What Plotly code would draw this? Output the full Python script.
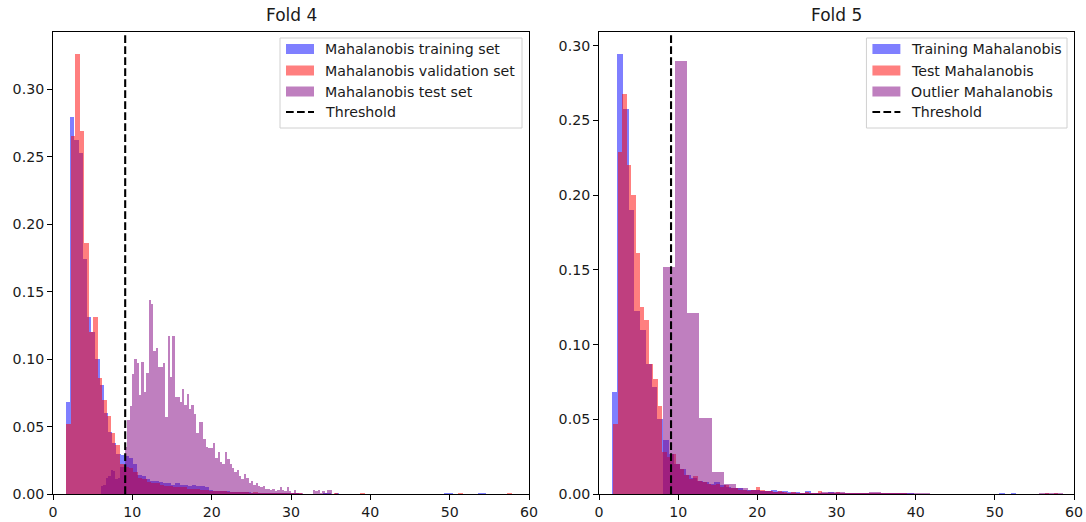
import plotly.graph_objects as go

# ---------------------------------------------------------------------------
# Histogram data (probability density per bin)
# Each series: first bin edge, bin width, densities
# ---------------------------------------------------------------------------

# Fold 4
f4_train_start, f4_train_width = 1.64, 0.53
f4_train_density = [
    0.068, 0.279, 0.262, 0.253, 0.174, 0.131, 0.120, 0.100, 0.081, 0.060,
    0.046, 0.038, 0.030, 0.029, 0.028, 0.027, 0.022, 0.014, 0.013, 0.011,
    0.010, 0.010, 0.009, 0.008, 0.008, 0.007, 0.008, 0.007, 0.007, 0.006,
    0.007, 0.006, 0.006, 0.005, 0.003, 0.002, 0.002, 0.002, 0.002, 0.0015,
    0.0015, 0.0015, 0.0012, 0.0012, 0.001, 0.001, 0.0008, 0.001, 0.0008, 0.0006,
    0.0006, 0.0005, 0.0005, 0.0004, 0.0004, 0.0005, 0.0003, 0.0, 0.0, 0.0,
    0.0, 0.0004, 0.0004, 0.0003, 0.0004, 0.0003, 0.0, 0.0, 0.0, 0.0,
    0.0, 0.0, 0.0, 0.0, 0.0, 0.0, 0.0, 0.0, 0.0, 0.0,
    0.0, 0.0, 0.0, 0.0, 0.0, 0.0, 0.0, 0.0, 0.0, 0.0,
    0.0005, 0.0004, 0.0, 0.0, 0.0, 0.0, 0.0, 0.0, 0.0004, 0.0004,
]

f4_val_start, f4_val_width = 1.70, 0.561
f4_val_density = [
    0.052, 0.265, 0.326, 0.269, 0.186, 0.120, 0.131, 0.086, 0.070, 0.058,
    0.045, 0.036, 0.022, 0.020, 0.019, 0.016, 0.012, 0.011, 0.009, 0.008,
    0.008, 0.007, 0.006, 0.006, 0.005, 0.005, 0.005, 0.004, 0.004, 0.004,
    0.003, 0.003, 0.002, 0.002, 0.002, 0.002, 0.0018, 0.0015, 0.0015, 0.0012,
    0.0012, 0.001, 0.0012, 0.0008, 0.001, 0.0008, 0.0008, 0.0006, 0.0006, 0.0005,
    0.0005, 0.0004, 0.0004, 0.0003, 0.0, 0.0, 0.0003, 0.0003, 0.0003, 0.0003,
    0.0004, 0.0003, 0.0003, 0.0, 0.0, 0.0, 0.0004, 0.0, 0.0, 0.0,
    0.0, 0.0, 0.0, 0.0, 0.0, 0.0, 0.0, 0.0, 0.0, 0.0,
    0.0, 0.0, 0.0, 0.0, 0.0, 0.0, 0.0, 0.0, 0.0004, 0.0,
    0.0, 0.0, 0.0, 0.0, 0.0, 0.0, 0.0, 0.0, 0.0, 0.0004,
]

f4_test_start, f4_test_width = 6.05, 0.30
f4_test_density = [
    0.006, 0.007, 0.012, 0.013, 0.018, 0.017, 0.011, 0.012, 0.020, 0.020,
    0.035, 0.055, 0.065, 0.089, 0.100, 0.097, 0.073, 0.098, 0.0755, 0.090,
    0.144, 0.141, 0.106, 0.108, 0.094, 0.094, 0.097, 0.057, 0.117, 0.0865,
    0.117, 0.0717, 0.072, 0.068, 0.078, 0.066, 0.074, 0.063, 0.066, 0.059,
    0.045, 0.053, 0.053, 0.041, 0.035, 0.034, 0.034, 0.038, 0.027, 0.031,
    0.024, 0.022, 0.031, 0.026, 0.022, 0.019, 0.016, 0.018, 0.013, 0.011,
    0.015, 0.012, 0.008, 0.010, 0.007, 0.008, 0.006, 0.005, 0.006, 0.004,
    0.004, 0.003, 0.004, 0.002, 0.003, 0.005, 0.003, 0.002, 0.005, 0.002,
    0.001, 0.003, 0.001, 0.0, 0.001, 0.0, 0.0, 0.0, 0.0, 0.003,
    0.002, 0.003, 0.001, 0.002, 0.001, 0.003, 0.003,
]

# Fold 5
f5_train_start, f5_train_width = 1.60, 0.72
f5_train_density = [
    0.068, 0.2945, 0.2575, 0.190, 0.1227, 0.110, 0.087, 0.0715, 0.050, 0.036,
    0.027, 0.020, 0.017, 0.013, 0.011, 0.009, 0.008, 0.007, 0.008, 0.006,
    0.005, 0.004, 0.004, 0.003, 0.003, 0.003, 0.002, 0.002, 0.003, 0.002,
    0.002, 0.0015, 0.0015, 0.001, 0.002, 0.001, 0.001, 0.001, 0.0015, 0.001,
    0.001, 0.0008, 0.001, 0.0008, 0.001, 0.0008, 0.0008, 0.0006, 0.0008, 0.0005,
    0.0004, 0.0004, 0.0004, 0.0, 0.0, 0.0, 0.0, 0.0, 0.0, 0.0,
    0.0, 0.0, 0.0, 0.0, 0.0, 0.0, 0.0, 0.0, 0.0004, 0.0,
    0.0004, 0.0,
]

f5_test_start, f5_test_width = 1.80, 0.562
f5_test_density = [
    0.047, 0.229, 0.268, 0.220, 0.200, 0.1615, 0.125, 0.1167, 0.087, 0.0767,
    0.059, 0.028, 0.025, 0.027, 0.020, 0.017, 0.013, 0.010, 0.012, 0.009,
    0.008, 0.007, 0.006, 0.007, 0.005, 0.006, 0.004, 0.004, 0.003, 0.003,
    0.002, 0.003, 0.005, 0.003, 0.002, 0.002, 0.0015, 0.002, 0.0015, 0.001,
    0.0015, 0.001, 0.001, 0.0015, 0.001, 0.001, 0.002, 0.001, 0.0008, 0.001,
    0.0015, 0.001, 0.0008, 0.0008, 0.0006, 0.0006, 0.0008, 0.0006, 0.0005, 0.0008,
    0.0005, 0.0004, 0.0005, 0.0004, 0.0004, 0.0004, 0.0003, 0.0003, 0.0003, 0.0003,
    0.0003, 0.0, 0.0, 0.0, 0.0, 0.0, 0.0, 0.0, 0.0, 0.0,
    0.0, 0.0, 0.0, 0.0, 0.0, 0.0, 0.0, 0.0, 0.0, 0.0,
    0.0, 0.0, 0.0, 0.0, 0.0, 0.0, 0.0, 0.0004, 0.0, 0.0004,
]

f5_outlier_start, f5_outlier_width = 8.10, 1.53
f5_outlier_density = [
    0.152, 0.290, 0.121, 0.051, 0.0145, 0.007, 0.004, 0.003, 0.002, 0.0015,
    0.001, 0.001, 0.0008, 0.0015, 0.0015, 0.001, 0.001, 0.0015, 0.001, 0.0008,
    0.0008, 0.0008, 0.0, 0.0, 0.0, 0.0, 0.0, 0.0, 0.0, 0.0,
    0.0, 0.0008, 0.0008,
]

threshold = 9.1

panel_titles = ["Fold 4", "Fold 5"]
legend_labels = [
    ["Mahalanobis training set", "Mahalanobis validation set", "Mahalanobis test set", "Threshold"],
    ["Training Mahalanobis", "Test Mahalanobis", "Outlier Mahalanobis", "Threshold"],
]
x_ticks = [0, 10, 20, 30, 40, 50, 60]
y_ticks4 = [0.00, 0.05, 0.10, 0.15, 0.20, 0.25, 0.30]
y_ticks5 = [0.00, 0.05, 0.10, 0.15, 0.20, 0.25, 0.30]

# ---------------------------------------------------------------------------
# Styling
# ---------------------------------------------------------------------------
BLUE = "rgba(0,0,255,0.5)"
RED = "rgba(255,0,0,0.5)"
PURPLE = "rgba(128,0,128,0.5)"
TEXT = "#1a1a1a"
FONT = "DejaVu Sans"
FS = 14.2
DASH = "7.7px,3.3px"
LW = 2.1

FIG_W, FIG_H = 1086, 522
M_L, M_R, M_T, M_B = 53, 12, 32, 28
PLOT_W = FIG_W - M_L - M_R
PLOT_H = FIG_H - M_T - M_B
AX_W = 476  # width of each axes in px
GAP = 70    # px between the two axes
dom1 = [0, AX_W / PLOT_W]
dom2 = [(AX_W + GAP) / PLOT_W, 1]


def hist_bars(start, width, dens, color, xa, ya):
    centers = [start + width * (i + 0.5) for i in range(len(dens))]
    return go.Bar(
        x=centers, y=dens, width=width,
        marker=dict(color=color, line=dict(width=0)),
        xaxis=xa, yaxis=ya, showlegend=False, hoverinfo="x+y",
    )


fig = go.Figure()
fig.add_trace(hist_bars(f4_train_start, f4_train_width, f4_train_density, BLUE, "x", "y"))
fig.add_trace(hist_bars(f4_val_start, f4_val_width, f4_val_density, RED, "x", "y"))
fig.add_trace(hist_bars(f4_test_start, f4_test_width, f4_test_density, PURPLE, "x", "y"))
fig.add_trace(hist_bars(f5_train_start, f5_train_width, f5_train_density, BLUE, "x2", "y2"))
fig.add_trace(hist_bars(f5_test_start, f5_test_width, f5_test_density, RED, "x2", "y2"))
fig.add_trace(hist_bars(f5_outlier_start, f5_outlier_width, f5_outlier_density, PURPLE, "x2", "y2"))

# auto-scaled y-limits: 5% headroom above the tallest bar
ymax4 = max(max(f4_train_density), max(f4_val_density), max(f4_test_density)) * 1.05
ymax5 = max(max(f5_train_density), max(f5_test_density), max(f5_outlier_density)) * 1.05

axis_common = dict(
    showline=True, linecolor="black", linewidth=1.1, mirror=True,
    ticks="outside", ticklen=4.9, tickwidth=1.1, tickcolor="black",
    showgrid=False, zeroline=False, automargin=False,
    tickfont=dict(family=FONT, size=FS, color=TEXT),
)

fig.update_layout(
    width=FIG_W, height=FIG_H,
    margin=dict(l=M_L, r=M_R, t=M_T, b=M_B, autoexpand=False),
    paper_bgcolor="white", plot_bgcolor="white",
    barmode="overlay", bargap=0,
    showlegend=False,
    xaxis=dict(domain=dom1, range=[0, 60], tickvals=x_ticks, anchor="y", **axis_common),
    yaxis=dict(domain=[0, 1], range=[0, ymax4], tickvals=y_ticks4, tickformat=".2f", anchor="x", **axis_common),
    xaxis2=dict(domain=dom2, range=[0, 60], tickvals=x_ticks, anchor="y2", **axis_common),
    yaxis2=dict(domain=[0, 1], range=[0, ymax5], tickvals=y_ticks5, tickformat=".2f", anchor="x2", **axis_common),
)

AX_H = PLOT_H
shapes = []
annotations = []

# legend box geometry per panel (px from the axes' top-left corner)
legend_boxes = [
    dict(left=227, right=469),   # Fold 4
    dict(left=268, right=469),   # Fold 5
]
row_offsets = [17, 38.5, 59.5, 80]
box_top, box_bottom = 6, 96
swatch_colors = [BLUE, RED, PURPLE]

for p, (xa, ya) in enumerate([("x", "y"), ("x2", "y2")]):
    xref, yref = f"{xa} domain", f"{ya} domain"

    def fx(px):
        return px / AX_W

    def fy(py):
        return 1 - py / AX_H

    # threshold line spans the full height of the axes
    shapes.append(dict(
        type="line", xref=xa, yref=yref, x0=threshold, x1=threshold, y0=0, y1=1,
        line=dict(color="black", width=LW, dash=DASH), layer="above",
    ))

    # panel title
    annotations.append(dict(
        text=panel_titles[p], xref=xref, yref=yref, x=0.5, y=1,
        xanchor="center", yanchor="bottom", yshift=5, showarrow=False,
        font=dict(family=FONT, size=17, color=TEXT),
    ))

    # legend frame
    b = legend_boxes[p]
    shapes.append(dict(
        type="rect", xref=xref, yref=yref,
        x0=fx(b["left"]), x1=fx(b["right"]), y0=fy(box_bottom), y1=fy(box_top),
        line=dict(color="#d0d0d0", width=1), fillcolor="rgba(255,255,255,0.8)", layer="above",
    ))
    sw_left = b["left"] + 6
    sw_right = sw_left + 28
    for i, label in enumerate(legend_labels[p]):
        ry = row_offsets[i]
        if i < 3:
            shapes.append(dict(
                type="rect", xref=xref, yref=yref,
                x0=fx(sw_left), x1=fx(sw_right), y0=fy(ry + 5), y1=fy(ry - 5),
                line=dict(width=0), fillcolor=swatch_colors[i], layer="above",
            ))
        else:
            shapes.append(dict(
                type="line", xref=xref, yref=yref,
                x0=fx(sw_left), x1=fx(sw_right), y0=fy(ry), y1=fy(ry),
                line=dict(color="black", width=LW, dash=DASH), layer="above",
            ))
        annotations.append(dict(
            text=label, xref=xref, yref=yref, x=fx(sw_right + 9), y=fy(ry),
            xanchor="left", yanchor="middle", showarrow=False,
            font=dict(family=FONT, size=FS, color=TEXT),
        ))

fig.update_layout(shapes=shapes, annotations=annotations)
fig.write_html("out.html")
